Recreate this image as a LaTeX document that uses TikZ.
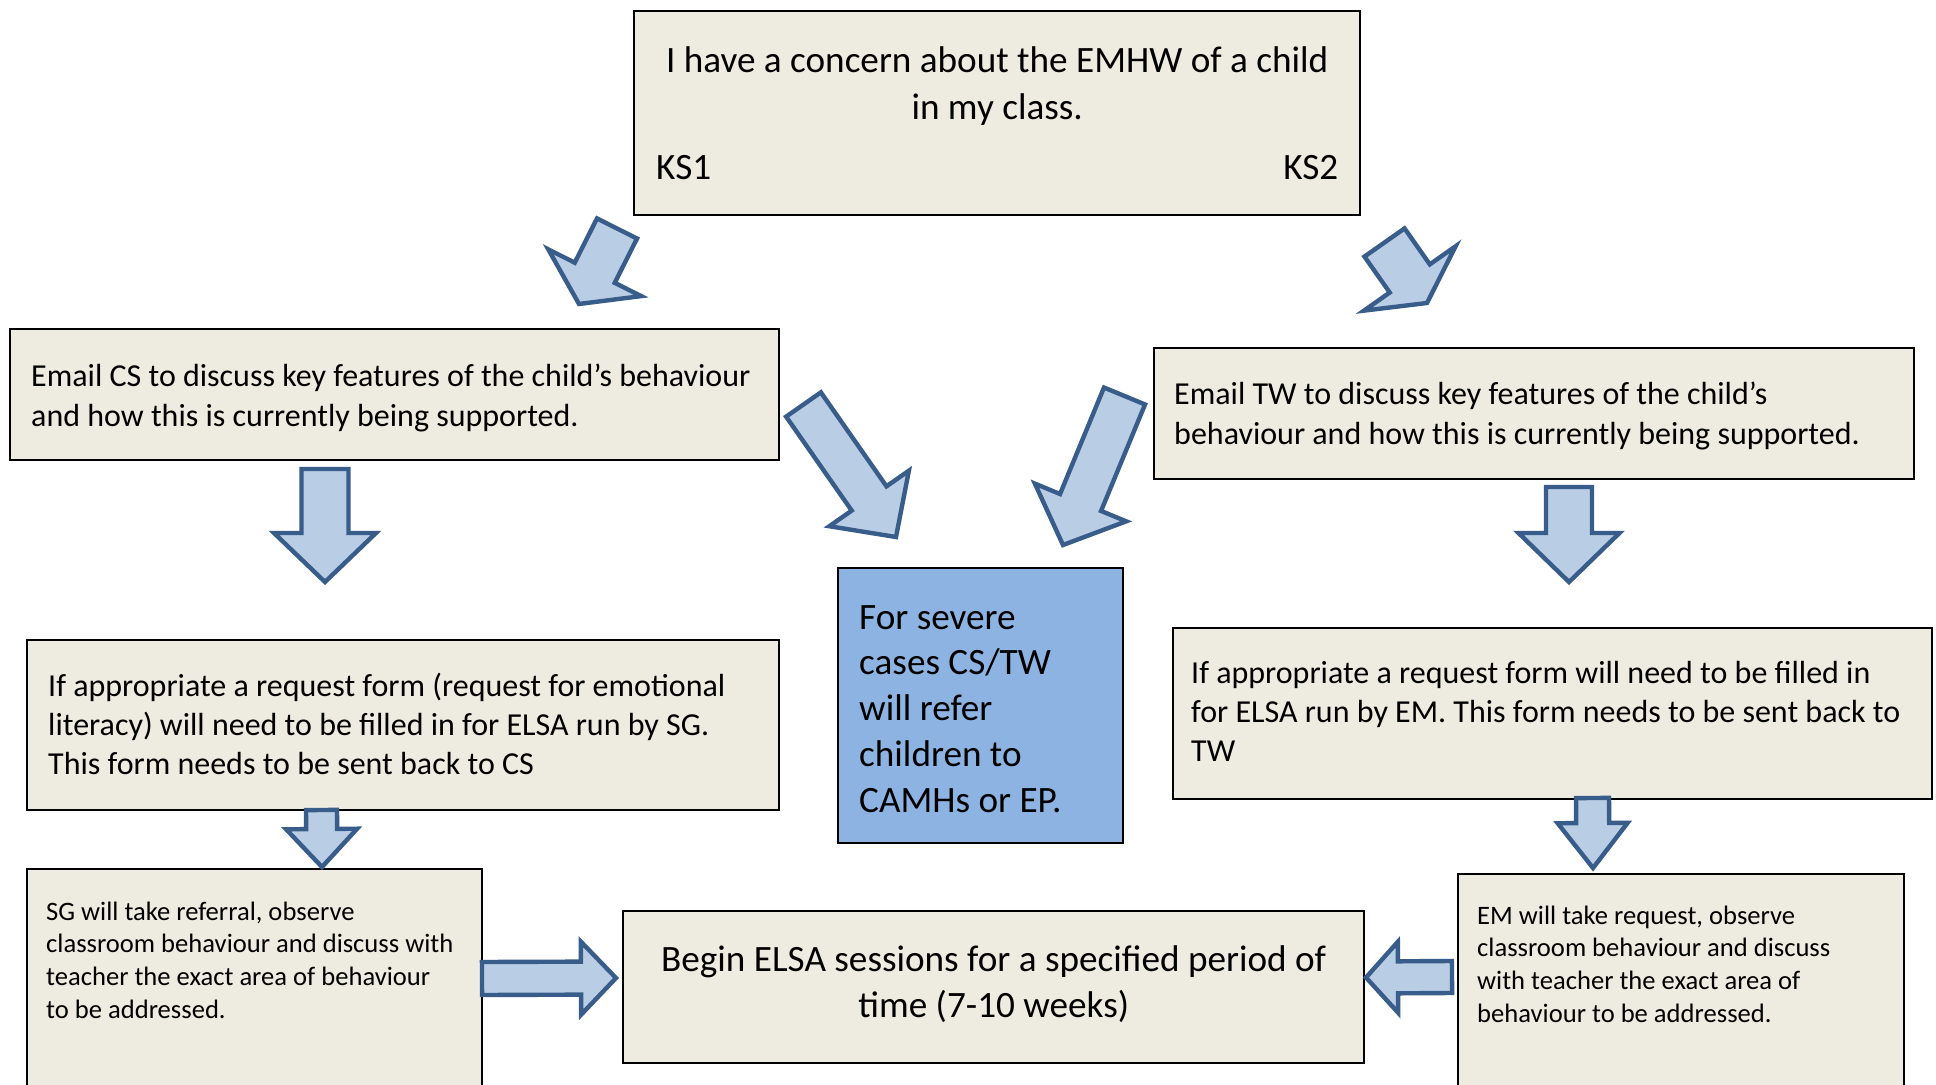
\documentclass[tikz,border=0pt]{standalone}
\usepackage{fontspec}
\setmainfont{Carlito}
\usetikzlibrary{calc}
\definecolor{paperBeige}{HTML}{EEECE1}
\definecolor{severeBlue}{HTML}{8DB3E2}
\definecolor{arrowFill}{HTML}{B9CDE5}
\definecolor{arrowLine}{HTML}{385D8A}
\tikzset{
    % Base Box Style
    card/.style={
        rectangle,
        anchor=north west,
        draw=black,
        line width=1.2pt,
        fill=paperBeige,
        inner ysep=0pt,
        align=flush left
    },
    % Text Sizes
    bigText/.style={font=\fontsize{18.6}{23}\selectfont},
    midText/.style={font=\fontsize{16}{20}\selectfont},
    smallText/.style={font=\fontsize{13.3}{16.3}\selectfont},
    % Block Arrow Style
    fatArrow/.style={fill=arrowFill, draw=arrowLine, line width=2.2pt, line join=miter}
}
% block arrow: tail, tip, half shaft, half head, head length
\newcommand{\blockArrow}[5]{%
    \coordinate (hb) at ($(#2)!#5!(#1)$);
    \draw[fatArrow] ($(#1)!#3!90:(#2)$) -- ($(hb)!#3!90:(#2)$) -- ($(hb)!#4!90:(#2)$)
        -- (#2) -- ($(hb)!#4!-90:(#2)$) -- ($(hb)!#3!-90:(#2)$) -- ($(#1)!#3!-90:(#2)$) -- cycle;
}

\begin{document}
\begin{tikzpicture}[x=0.5pt, y=-0.5pt]

    \fill[white] (0,0) rectangle (1936,1085);
    \useasboundingbox (0,0) rectangle (1936,1085);
    \clip (0,0) rectangle (1936,1085);

    % --- TOP ---
    \node (concern) [card, bigText, font=\fontsize{18.6}{23.5}\selectfont, align=flush center,
        inner xsep=11pt, text width=341pt, text height=30.5pt, text depth=71.5pt] at (633,10) {
        I have a concern about the EMHW of a child\\ 
        in my class.\\[6.5pt]
        KS1\hfill KS2
    };

    % --- LEFT COLUMN (KS1) ---
    \node (emailCS) [card, midText, inner xsep=10.5pt, text width=363.5pt,
        text height=28.5pt, text depth=37pt] at (9,328) {
        Email CS to discuss key features of the child’s behaviour\\
        and how this is currently being supported.
    };

    \node (formCS) [card, midText, font=\fontsize{16}{19.5}\selectfont, inner xsep=10.5pt, text width=355pt,
        text height=28pt, text depth=57pt] at (26,639) {
        If appropriate a request form (request for emotional\\
        literacy) will need to be filled in for ELSA run by SG.\\
        This form needs to be sent back to CS
    };

    \node (takeSG) [card, smallText, inner xsep=9.5pt, text width=208.5pt,
        text height=25.5pt, text depth=88pt] at (26,868) {
        SG will take referral, observe\\
        classroom behaviour and discuss with\\
        teacher the exact area of behaviour\\
        to be addressed.
    };

    % --- RIGHT COLUMN (KS2) ---
    \node (emailTW) [card, midText, inner xsep=10pt, text width=360pt,
        text height=28pt, text depth=37.5pt] at (1153,347) {
        Email TW to discuss key features of the child’s\\
        behaviour and how this is currently being supported.
    };

    \node (formTW) [card, midText, font=\fontsize{16}{19.5}\selectfont, inner xsep=9pt, text width=361.5pt,
        text height=27.5pt, text depth=58pt] at (1172,627) {
        If appropriate a request form will need to be filled in\\
        for ELSA run by EM. This form needs to be sent back to\\
        TW
    };

    \node (takeEM) [card, smallText, inner xsep=9.5pt, text width=204pt,
        text height=25pt, text depth=86pt] at (1457,873) {
        EM will take request, observe\\
        classroom behaviour and discuss\\
        with teacher the exact area of\\
        behaviour to be addressed.
    };

    % --- MIDDLE ---
    \node (severe) [card, bigText, font=\fontsize{18.6}{22.85}\selectfont, fill=severeBlue,
        inner xsep=10.5pt, text width=121.5pt, text height=30.5pt, text depth=107pt] at (837,567) {
        For severe\\
        cases CS/TW\\
        will refer\\
        children to\\
        CAMHs or EP.
    };

    \node (sessions) [card, bigText, align=flush center, inner xsep=10pt, text width=350.5pt,
        text height=30pt, text depth=46pt] at (622,910) {
        Begin ELSA sessions for a specified period of\\
        time (7-10 weeks)
    };

    % --- Arrow ends ---
    \coordinate (ks1S) at (617,228.5);    \coordinate (ks1E) at (579,304);
    \coordinate (ks2S) at (1384.5,242.5); \coordinate (ks2E) at (1427,303);
    \coordinate (csDownS) at (325,469);   \coordinate (csDownE) at (325,582);
    \coordinate (twDownS) at (1569,487);  \coordinate (twDownE) at (1569,582);
    \coordinate (csSevS) at (803.5,404.5); \coordinate (csSevE) at (896,537);
    \coordinate (twSevS) at (1124.5,396); \coordinate (twSevE) at (1063,545);
    \coordinate (sgDownS) at (321.5,810); \coordinate (sgDownE) at (322,867);
    \coordinate (emDownS) at (1592.5,798); \coordinate (emDownE) at (1593,868);
    \coordinate (sgRightS) at (482,978.5); \coordinate (sgRightE) at (616,978);
    \coordinate (emLeftS) at (1452,977);  \coordinate (emLeftE) at (1366,977.5);

    % --- Arrows ---
    \blockArrow{ks1S}{ks1E}{11.2pt}{26pt}{17.5pt}        % KS1
    \blockArrow{ks2S}{ks2E}{12.25pt}{28pt}{15pt}         % KS2
    \blockArrow{csDownS}{csDownE}{11.75pt}{25.5pt}{24.5pt}
    \blockArrow{twDownS}{twDownE}{11.5pt}{25.25pt}{24.5pt}
    \blockArrow{csSevS}{csSevE}{10.6pt}{24.25pt}{23.5pt} % to severe cases
    \blockArrow{twSevS}{twSevE}{11.1pt}{24.7pt}{23pt}
    \blockArrow{sgDownS}{sgDownE}{7.75pt}{17.75pt}{19pt}
    \blockArrow{emDownS}{emDownE}{8.25pt}{17.5pt}{22.5pt}
    \blockArrow{sgRightS}{sgRightE}{8.25pt}{18.25pt}{17.5pt} % into sessions
    \blockArrow{emLeftS}{emLeftE}{8pt}{17.75pt}{16pt}

\end{tikzpicture}
\end{document}
